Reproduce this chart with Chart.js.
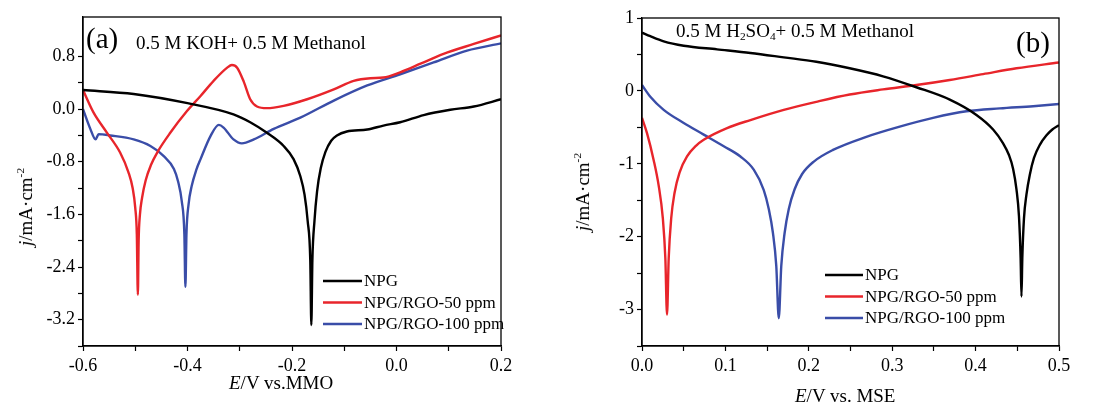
<!DOCTYPE html>
<html>
<head>
<meta charset="utf-8">
<script src="https://cdn.jsdelivr.net/npm/chart.js@4.4.1/dist/chart.umd.min.js"></script>
<style>
  body { margin: 0; background: #fff; }
  #wrap { position: relative; width: 1110px; height: 408px; font-family: "Liberation Serif", "Times New Roman", serif; color: #000; }
  .box { position: absolute; top: 0; width: 555px; height: 408px; }
  .txt { position: absolute; white-space: nowrap; line-height: 1; }
  .rot { transform-origin: center center; transform: translate(-50%, -50%) rotate(-90deg); }
  sub { font-size: 0.6em; vertical-align: -0.25em; }
  sup { font-size: 0.6em; vertical-align: 0.7em; }
</style>
</head>
<body>
<div id="wrap">
  <div class="box" style="left:0"><canvas id="chartA"></canvas></div>
  <div class="box" style="left:555px"><canvas id="chartB"></canvas></div>

  <div class="txt" style="left:86px;top:24px;font-size:29px">(a)</div>
  <div class="txt" style="left:136px;top:33px;font-size:19px">0.5 M KOH+ 0.5 M Methanol</div>
  <div class="txt" style="left:229px;top:373px;font-size:19px"><i>E</i>/V vs.MMO</div>
  <div class="txt rot" style="left:25px;top:207px;font-size:19px"><i>j</i>/mA·cm<sup>-2</sup></div>

  <div class="txt" style="left:676px;top:21px;font-size:19px">0.5 M H<sub>2</sub>SO<sub>4</sub>+ 0.5 M Methanol</div>
  <div class="txt" style="left:1016px;top:28px;font-size:29px">(b)</div>
  <div class="txt" style="left:795px;top:386px;font-size:19px"><i>E</i>/V vs. MSE</div>
  <div class="txt rot" style="left:582px;top:192px;font-size:19px"><i>j</i>/mA·cm<sup>-2</sup></div>
</div>

<script>
// ---- panel (a): 0.5 M KOH + 0.5 M Methanol ----
const aNpgX = [-0.6, -0.503, -0.40, -0.312, -0.280, -0.248, -0.216, -0.197, -0.184, -0.176, -0.170, -0.165, -0.163, -0.161, -0.157, -0.152, -0.145, -0.136, -0.125, -0.114, -0.095, -0.056, -0.025, 0.007, 0.052, 0.103, 0.148, 0.2];
const aNpgY = [0.29, 0.23, 0.09, -0.08, -0.20, -0.36, -0.56, -0.76, -1.02, -1.30, -1.70, -2.30, -3.28, -2.30, -1.70, -1.25, -0.90, -0.65, -0.48, -0.40, -0.34, -0.31, -0.25, -0.20, -0.09, -0.01, 0.04, 0.15];

const a50X = [-0.6, -0.580, -0.554, -0.529, -0.513, -0.505, -0.500, -0.497, -0.495, -0.4935, -0.491, -0.487, -0.480, -0.470, -0.458, -0.433, -0.401, -0.375, -0.35, -0.324, -0.315, -0.305, -0.292, -0.280, -0.267, -0.248, -0.216, -0.171, -0.120, -0.082, -0.050, -0.025, 0.007, 0.046, 0.090, 0.148, 0.2];
const a50Y = [0.29, -0.05, -0.36, -0.66, -0.96, -1.20, -1.50, -1.90, -2.82, -2.00, -1.60, -1.35, -1.08, -0.85, -0.66, -0.36, -0.03, 0.20, 0.43, 0.63, 0.67, 0.63, 0.41, 0.15, 0.04, 0.015, 0.05, 0.15, 0.30, 0.43, 0.47, 0.48, 0.56, 0.69, 0.84, 0.99, 1.12];

const a100X = [-0.6, -0.586, -0.576, -0.570, -0.548, -0.503, -0.471, -0.446, -0.426, -0.418, -0.411, -0.406, -0.404, -0.402, -0.398, -0.392, -0.383, -0.375, -0.356, -0.340, -0.331, -0.312, -0.296, -0.273, -0.235, -0.184, -0.120, -0.056, 0.007, 0.071, 0.135, 0.2];
const a100Y = [0.0, -0.30, -0.46, -0.38, -0.40, -0.46, -0.56, -0.71, -0.91, -1.10, -1.40, -1.90, -2.70, -1.90, -1.45, -1.17, -0.92, -0.76, -0.41, -0.24, -0.28, -0.46, -0.52, -0.46, -0.30, -0.13, 0.13, 0.36, 0.53, 0.71, 0.89, 1.00];

// ---- panel (b): 0.5 M H2SO4 + 0.5 M Methanol ----
const bNpgX = [0, 0.010, 0.026, 0.050, 0.090, 0.130, 0.170, 0.209, 0.249, 0.289, 0.329, 0.369, 0.401, 0.421, 0.433, 0.440, 0.445, 0.449, 0.452, 0.454, 0.455, 0.456, 0.458, 0.461, 0.465, 0.470, 0.477, 0.485, 0.492, 0.5];
const bNpgY = [0.80, 0.75, 0.68, 0.62, 0.57, 0.52, 0.46, 0.40, 0.31, 0.20, 0.05, -0.12, -0.33, -0.53, -0.72, -0.88, -1.07, -1.35, -1.72, -2.30, -2.82, -2.30, -1.75, -1.42, -1.15, -0.92, -0.74, -0.61, -0.53, -0.47];

const b50X = [0, 0.006, 0.014, 0.020, 0.025, 0.028, 0.030, 0.032, 0.035, 0.039, 0.045, 0.054, 0.065, 0.074, 0.102, 0.130, 0.170, 0.209, 0.249, 0.289, 0.329, 0.369, 0.409, 0.449, 0.5];
const b50Y = [-0.37, -0.58, -0.95, -1.30, -1.75, -2.30, -3.07, -2.30, -1.75, -1.40, -1.12, -0.90, -0.75, -0.67, -0.51, -0.40, -0.26, -0.15, -0.05, 0.02, 0.08, 0.15, 0.23, 0.31, 0.39];

const b100X = [0, 0.010, 0.026, 0.050, 0.074, 0.098, 0.118, 0.134, 0.146, 0.152, 0.157, 0.161, 0.164, 0.167, 0.171, 0.176, 0.183, 0.192, 0.206, 0.229, 0.269, 0.309, 0.349, 0.389, 0.429, 0.469, 0.5];
const b100Y = [0.08, -0.08, -0.26, -0.44, -0.60, -0.76, -0.90, -1.08, -1.36, -1.62, -1.95, -2.40, -3.12, -2.40, -1.95, -1.62, -1.35, -1.14, -0.97, -0.81, -0.63, -0.49, -0.37, -0.28, -0.24, -0.21, -0.18];

const seriesNames = ['NPG', 'NPG/RGO-50 ppm', 'NPG/RGO-100 ppm'];
const seriesColors = ['#000000', '#e8252b', '#3a4da8'];

// tick labels shown on the axes
const aXLabels = ['-0.6', '-0.4', '-0.2', '0.0', '0.2'];
const aYLabels = ['-3.2', '-2.4', '-1.6', '-0.8', '0.0', '0.8'];
const bXLabels = ['0.0', '0.1', '0.2', '0.3', '0.4', '0.5'];
const bYLabels = ['-3', '-2', '-1', '0', '1'];

const pts = (xs, ys) => xs.map((x, i) => ({ x: x, y: ys[i] }));
const tickFont = { family: 'Liberation Serif', size: 18 };

// only print a label where the tick sits on one of the listed values
function labelFrom(list) {
    return function (v) {
        const hit = list.find(t => Math.abs(parseFloat(t) - v) < 1e-6);
        return hit === undefined ? '' : hit;
    };
}

// frame around the plot area
const framePlugin = {
    id: 'frame',
    afterDraw(chart) {
        const a = chart.chartArea, ctx = chart.ctx;
        ctx.save();
        ctx.strokeStyle = '#000';
        ctx.lineWidth = 1.3;
        ctx.strokeRect(a.left, a.top, a.right - a.left, a.bottom - a.top);
        ctx.restore();
    }
};

// legend drawn inside the plot
const innerLegend = {
    id: 'innerLegend',
    afterDraw(chart, args, opts) {
        const ctx = chart.ctx;
        ctx.save();
        ctx.font = '17px "Liberation Serif"';
        ctx.textBaseline = 'middle';
        ctx.fillStyle = '#000';
        chart.data.datasets.forEach((ds, i) => {
            const y = opts.y + i * opts.rowH;
            ctx.strokeStyle = ds.borderColor;
            ctx.lineWidth = 2.5;
            ctx.beginPath();
            ctx.moveTo(opts.x, y);
            ctx.lineTo(opts.x + opts.len, y);
            ctx.stroke();
            ctx.fillText(ds.label, opts.x + opts.len + 2, y + 1);
        });
        ctx.restore();
    }
};

function makeChart(id, data, cfg) {
    const noTopTick = c => (c.tick && Math.abs(c.tick.value - cfg.yMax) < 1e-6 && !cfg.yTopTick) ? 'rgba(0,0,0,0)' : '#000';
    return new Chart(document.getElementById(id), {
        type: 'line',
        data: {
            datasets: data.map((d, i) => ({
                label: seriesNames[i],
                data: d,
                borderColor: seriesColors[i],
                borderWidth: 2.4,
                pointRadius: 0,
                fill: false,
                cubicInterpolationMode: 'monotone'
            }))
        },
        options: {
            responsive: true,
            maintainAspectRatio: false,
            animation: false,
            layout: { padding: { top: cfg.top, right: cfg.right, left: 0, bottom: 0 } },
            plugins: {
                legend: { display: false },
                tooltip: { enabled: false },
                innerLegend: cfg.legend
            },
            scales: {
                x: {
                    type: 'linear',
                    min: cfg.xMin, max: cfg.xMax,
                    afterFit: s => { s.height = 62; },
                    ticks: { stepSize: cfg.xStep, color: '#000', font: tickFont, padding: 4, maxRotation: 0, autoSkip: false, callback: labelFrom(cfg.xLabels) },
                    grid: { drawOnChartArea: false, tickLength: 5, tickColor: '#000', tickWidth: 1.2 },
                    border: { color: '#000', width: 1.3 }
                },
                y: {
                    min: cfg.yMin, max: cfg.yMax,
                    afterFit: s => { s.width = cfg.yWidth; },
                    ticks: { stepSize: cfg.yStep, color: '#000', font: tickFont, padding: 3, autoSkip: false, callback: labelFrom(cfg.yLabels) },
                    grid: { drawOnChartArea: false, tickLength: 5, tickColor: noTopTick, tickWidth: 1.2 },
                    border: { color: '#000', width: 1.3 }
                }
            }
        },
        plugins: [framePlugin, innerLegend]
    });
}

makeChart('chartA', [pts(aNpgX, aNpgY), pts(a50X, a50Y), pts(a100X, a100Y)], {
    top: 17, right: 54, yWidth: 83,
    xMin: -0.6, xMax: 0.2, xStep: 0.1, xLabels: aXLabels,
    yMin: -3.6, yMax: 1.4, yStep: 0.4, yLabels: aYLabels, yTopTick: false,
    legend: { x: 323, y: 281, len: 39, rowH: 21.5 }
});

makeChart('chartB', [pts(bNpgX, bNpgY), pts(b50X, b50Y), pts(b100X, b100Y)], {
    top: 18, right: 51, yWidth: 87,
    xMin: 0, xMax: 0.5, xStep: 0.05, xLabels: bXLabels,
    yMin: -3.5, yMax: 1, yStep: 0.5, yLabels: bYLabels, yTopTick: true,
    legend: { x: 270, y: 275, len: 38, rowH: 21.5 }
});
</script>
</body>
</html>
